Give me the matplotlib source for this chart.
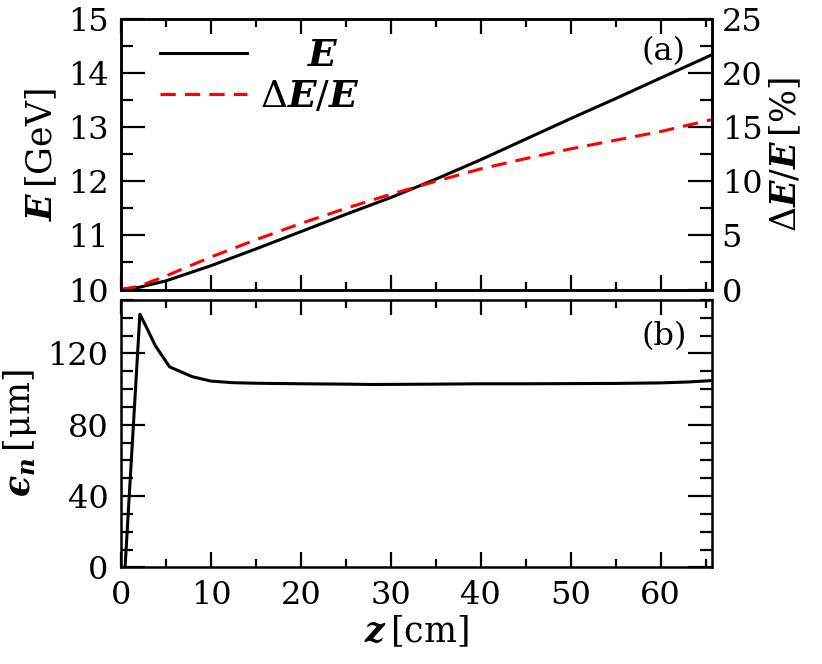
import numpy as np
import matplotlib
matplotlib.use("Agg")
import matplotlib.pyplot as plt
from matplotlib.ticker import MultipleLocator

plt.rcParams['font.family'] = ['DejaVu Serif']
plt.rcParams['mathtext.fontset'] = 'custom'
plt.rcParams['mathtext.rm'] = 'DejaVu Serif'
plt.rcParams['mathtext.it'] = 'DejaVu Serif:italic:bold'
plt.rcParams['mathtext.bf'] = 'DejaVu Serif:bold'

# (a) beam energy and energy spread along z
z_top = [0, 2, 5, 10, 15, 20, 25, 30, 35, 40, 45, 50, 55, 60, 65.7]
energy = [10.00, 10.04, 10.16, 10.44, 10.75, 11.07, 11.39, 11.70, 12.04,
          12.40, 12.78, 13.16, 13.53, 13.91, 14.34]
z_spread = [0, 2, 5, 10, 15, 20, 25, 30, 35, 40, 45, 50, 55, 60, 65.7]
spread = [0.0, 0.3, 1.25, 3.0, 4.6, 6.1, 7.5, 8.8, 10.0, 11.15, 12.1, 13.0,
          13.8, 14.6, 15.7]

# (b) normalized emittance
z_emit = [0.45, 2.1, 2.85, 3.8, 5.4, 7.9, 10, 12.5, 15, 20, 25, 28, 35, 40,
          45, 50, 55, 60, 63, 65.7]
emit = [0, 142, 134.5, 124.5, 112.5, 107, 104.5, 103.6, 103.3, 103, 102.8,
        102.6, 102.8, 103, 103, 103.1, 103.2, 103.5, 104, 104.8]

fs = 23
lfs = 25
fig = plt.figure(figsize=(8.22, 6.64), dpi=100)
ax1 = fig.add_axes([0.1472, 0.564, 0.719, 0.4074])
ax2 = fig.add_axes([0.1472, 0.1455, 0.719, 0.4027])
ax1r = ax1.twinx()

l1, = ax1.plot(z_top, energy, color='black', lw=2.2, label=r'    $E$')
l2, = ax1r.plot(z_spread, spread, color='red', lw=2.2, dashes=(5, 3),
                label=r'$\Delta E/E$')
ax2.plot(z_emit, emit, color='black', lw=2.2)

for ax in (ax1, ax2):
    ax.set_xlim(0, 65.7)
    ax.xaxis.set_major_locator(MultipleLocator(10))
    ax.xaxis.set_minor_locator(MultipleLocator(5))
    ax.tick_params(axis='x', which='major', direction='in', length=10.5,
                   width=1.6, top=True, labelsize=fs, pad=9)
    ax.tick_params(axis='x', which='minor', direction='in', length=5.5,
                   width=1.6, top=True)
    for sp in ax.spines.values():
        sp.set_linewidth(1.8)

ax1.set_ylim(10, 15)
ax1.yaxis.set_major_locator(MultipleLocator(1))
ax1.yaxis.set_minor_locator(MultipleLocator(0.5))
ax1.tick_params(axis='y', which='major', direction='in', length=17, width=1.6,
                labelsize=fs, pad=9)
ax1.tick_params(axis='y', which='minor', direction='in', length=8.5, width=1.6)
ax1.tick_params(axis='x', labelbottom=False)
ax1.set_ylabel(r'$E\,$[GeV]', fontsize=lfs, labelpad=6)

ax1r.set_ylim(0, 25)
ax1r.yaxis.set_major_locator(MultipleLocator(5))
ax1r.yaxis.set_minor_locator(MultipleLocator(2.5))
ax1r.tick_params(axis='y', which='major', direction='in', length=17,
                 width=1.6, labelsize=fs, pad=7)
ax1r.tick_params(axis='y', which='minor', direction='in', length=8.5,
                 width=1.6)
ax1r.set_ylabel(r'$\Delta E/E\,$[%]', fontsize=lfs, labelpad=4)
for sp in ax1r.spines.values():
    sp.set_linewidth(1.8)

ax2.set_ylim(0, 150)
ax2.yaxis.set_major_locator(MultipleLocator(40))
ax2.yaxis.set_minor_locator(MultipleLocator(10))
ax2.tick_params(axis='y', which='major', direction='in', length=17, width=1.6,
                right=True, labelsize=fs, pad=9)
ax2.tick_params(axis='y', which='minor', direction='in', length=8.5,
                width=1.6, right=True)
ax2.set_ylabel('$\u03f5_n\\,$[μm]', fontsize=lfs, labelpad=6)
ax2.set_xlabel(r'$z\,$[cm]', fontsize=lfs, labelpad=2)

ax1.text(0.955, 0.878, '(a)', transform=ax1.transAxes, fontsize=23,
         ha='right', va='center')
ax2.text(0.958, 0.862, '(b)', transform=ax2.transAxes, fontsize=23,
         ha='right', va='center')

ax1.legend(handles=[l1, l2], loc='upper left', frameon=False, fontsize=27,
           handlelength=2.32, handletextpad=0.35, labelspacing=0.15,
           borderaxespad=0.1, bbox_to_anchor=(0.034, 1.0))

fig.savefig('out.png', dpi=100)
